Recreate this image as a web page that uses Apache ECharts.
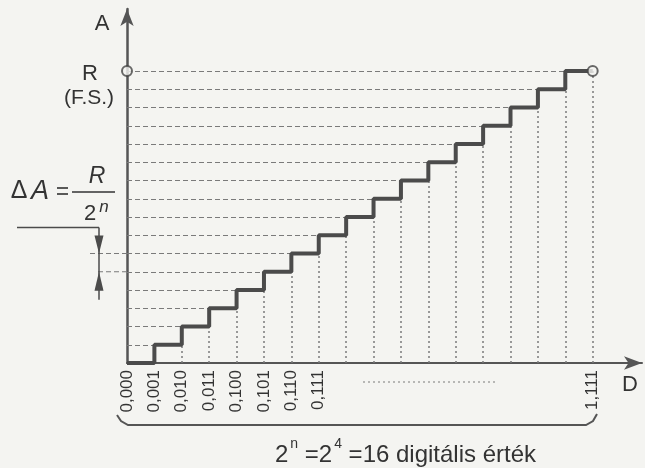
<!DOCTYPE html>
<html>
<head>
<meta charset="utf-8">
<script src="https://cdn.jsdelivr.net/npm/echarts@6/dist/echarts.min.js"></script>
<style>
  html, body { margin: 0; padding: 0; background: #f4f4f1; }
  #chart { width: 645px; height: 468px; }
</style>
</head>
<body>
<div id="chart"></div>
<script>
// Digital code positions on the D axis and the analog level reached at each one
const stairX = [0, 1, 2, 3, 4, 5, 6, 7, 8, 9, 10, 11, 12, 13, 14, 15, 16, 17];
const stairLevel = [0, 1, 2, 3, 4, 5, 6, 7, 8, 9, 10, 11, 12, 13, 14, 15, 16, 16];

// Labelled codes along the D axis
const xTicks = [0, 1, 2, 3, 4, 5, 6, 7, 17];
const xTickLabels = ['0,000', '0,001', '0,010', '0,011', '0,100', '0,101', '0,110', '0,111', '1,111'];

// Full-scale level (R) and the two levels marked as one step ΔA
const fullScale = 16;
const deltaLevels = [5, 6];

const INK = '#333333';
const GRID = '#7a7a7a';
const FONT = '"Liberation Sans", Arial, sans-serif';

const stairData = stairX.map((x, i) => [x, stairLevel[i]]);

// Dashed level lines: from the A axis to where the staircase reaches each level
const hLines = [];
for (let i = 1; i < stairX.length - 1; i++) {
  hLines.push({ coords: [[0, stairLevel[i]], [stairX[i], stairLevel[i]]] });
}
// Dotted code lines: from the D axis up to the bottom of each riser
const vLines = [];
for (let i = 2; i < stairX.length; i++) {
  vLines.push({ coords: [[stairX[i], 0], [stairX[i], stairLevel[i - 1]]] });
}

const chart = echarts.init(document.getElementById('chart'));

chart.setOption({
  backgroundColor: '#f4f4f1',
  animation: false,
  grid: { left: 127, right: 3, top: 9, bottom: 105, containLabel: false },
  xAxis: {
    type: 'value',
    min: 0,
    max: 18.8,
    interval: 1,
    splitLine: { show: false },
    axisTick: { show: false },
    axisLine: {
      lineStyle: { color: '#555555', width: 2 },
      symbol: ['none', 'arrow'],
      symbolSize: [10, 18]
    },
    axisLabel: {
      customValues: xTicks,
      rotate: 90,
      margin: 7,
      color: INK,
      fontFamily: FONT,
      fontSize: 17,
      formatter: v => {
        const i = xTicks.indexOf(Math.round(v));
        return i >= 0 ? xTickLabels[i] : '';
      }
    }
  },
  yAxis: {
    type: 'value',
    min: 0,
    max: 19.4,
    interval: 1,
    splitLine: { show: false },
    axisTick: { show: false },
    axisLabel: { show: false },
    axisLine: {
      lineStyle: { color: '#555555', width: 2.5 },
      symbol: ['none', 'arrow'],
      symbolSize: [10, 17]
    }
  },
  series: [
    {
      type: 'lines',
      coordinateSystem: 'cartesian2d',
      silent: true,
      lineStyle: { color: GRID, width: 1, type: [5, 3], opacity: 1 },
      data: hLines
    },
    {
      type: 'lines',
      coordinateSystem: 'cartesian2d',
      silent: true,
      lineStyle: { color: GRID, width: 1.5, type: [2, 3], opacity: 1 },
      data: vLines
    },
    {
      type: 'line',
      step: 'end',
      data: stairData,
      symbol: 'none',
      lineStyle: { color: '#4b4b4b', width: 4 },
      z: 5
    },
    {
      type: 'scatter',
      data: [[0, fullScale], [stairX[stairX.length - 1], fullScale]],
      symbol: 'circle',
      symbolSize: 10,
      itemStyle: { color: '#f4f4f1', borderColor: '#444444', borderWidth: 2 },
      z: 6
    },
    {
      // ΔA dimension: extension lines at two adjacent levels with opposing arrows
      type: 'custom',
      clip: false,
      silent: true,
      data: [deltaLevels],
      renderItem: (params, api) => {
        const lo = api.coord([0, api.value(0)]);
        const hi = api.coord([0, api.value(1)]);
        const ax = lo[0];
        const dx = ax - 28;
        const leadY = hi[1] - 26;
        const stroke = { stroke: '#4b4b4b', lineWidth: 1.5 };
        const dash = { stroke: GRID, lineWidth: 1, lineDash: [5, 3] };
        return {
          type: 'group',
          children: [
            { type: 'line', shape: { x1: ax, y1: hi[1], x2: ax - 37, y2: hi[1] }, style: dash },
            { type: 'line', shape: { x1: ax, y1: lo[1], x2: dx - 4, y2: lo[1] }, style: dash },
            { type: 'line', shape: { x1: 17, y1: leadY, x2: dx, y2: leadY }, style: stroke },
            { type: 'line', shape: { x1: dx, y1: leadY, x2: dx, y2: lo[1] + 28 }, style: stroke },
            { type: 'polygon', shape: { points: [[dx, hi[1]], [dx - 4.5, hi[1] - 18], [dx + 4.5, hi[1] - 18]] }, style: { fill: '#4b4b4b' } },
            { type: 'polygon', shape: { points: [[dx, lo[1]], [dx - 4.5, lo[1] + 19], [dx + 4.5, lo[1] + 19]] }, style: { fill: '#4b4b4b' } }
          ]
        };
      }
    }
  ],
  graphic: [
    { type: 'text', style: { text: 'A', x: 102, y: 24, font: '22px ' + FONT, fill: INK, textAlign: 'center', textVerticalAlign: 'middle' } },
    { type: 'text', style: { text: 'D', x: 630, y: 385, font: '22px ' + FONT, fill: INK, textAlign: 'center', textVerticalAlign: 'middle' } },
    { type: 'text', style: { text: 'R', x: 90, y: 74, font: '22px ' + FONT, fill: INK, textAlign: 'center', textVerticalAlign: 'middle' } },
    { type: 'text', style: { text: '(F.S.)', x: 89, y: 98, font: '21px ' + FONT, fill: INK, textAlign: 'center', textVerticalAlign: 'middle' } },
    // ΔA = R / 2^n
    { type: 'text', style: { text: 'Δ', x: 19, y: 191, font: '25px ' + FONT, fill: INK, textAlign: 'center', textVerticalAlign: 'middle' } },
    { type: 'text', style: { text: 'A', x: 40, y: 191, font: 'italic 27px ' + FONT, fill: INK, textAlign: 'center', textVerticalAlign: 'middle' } },
    { type: 'line', shape: { x1: 57, y1: 188, x2: 68, y2: 188 }, style: { stroke: INK, lineWidth: 1.6 } },
    { type: 'line', shape: { x1: 57, y1: 194, x2: 68, y2: 194 }, style: { stroke: INK, lineWidth: 1.6 } },
    { type: 'text', style: { text: 'R', x: 97, y: 177, font: 'italic 23px ' + FONT, fill: INK, textAlign: 'center', textVerticalAlign: 'middle' } },
    { type: 'line', shape: { x1: 72, y1: 192, x2: 115, y2: 192 }, style: { stroke: INK, lineWidth: 1.5 } },
    { type: 'text', style: { text: '2', x: 90, y: 214, font: '22px ' + FONT, fill: INK, textAlign: 'center', textVerticalAlign: 'middle' } },
    { type: 'text', style: { text: 'n', x: 104, y: 207, font: 'italic 17px ' + FONT, fill: INK, textAlign: 'center', textVerticalAlign: 'middle' } },
    // ellipsis between the labelled codes
    { type: 'line', shape: { x1: 363, y1: 382, x2: 495, y2: 382 }, style: { stroke: GRID, lineWidth: 1.2, lineDash: [2, 3] } },
    // brace under the code labels
    { type: 'polyline', shape: { points: [[117, 415], [121, 421], [128, 425], [586, 425], [593, 421], [597, 414]] }, style: { stroke: '#555', lineWidth: 2, fill: null } },
    {
      type: 'text',
      style: {
        x: 275, y: 452,
        textVerticalAlign: 'middle',
        text: '{b|2}{s|n}{b| =2}{s|4}{b| =16 digitális érték}',
        rich: {
          b: { fontFamily: FONT, fontSize: 24, fill: INK, color: INK, lineHeight: 30, verticalAlign: 'bottom' },
          s: { fontFamily: FONT, fontSize: 14, fill: INK, color: INK, lineHeight: 30, verticalAlign: 'top', padding: [0, 0, 0, 2] }
        }
      }
    }
  ]
});
</script>
</body>
</html>
